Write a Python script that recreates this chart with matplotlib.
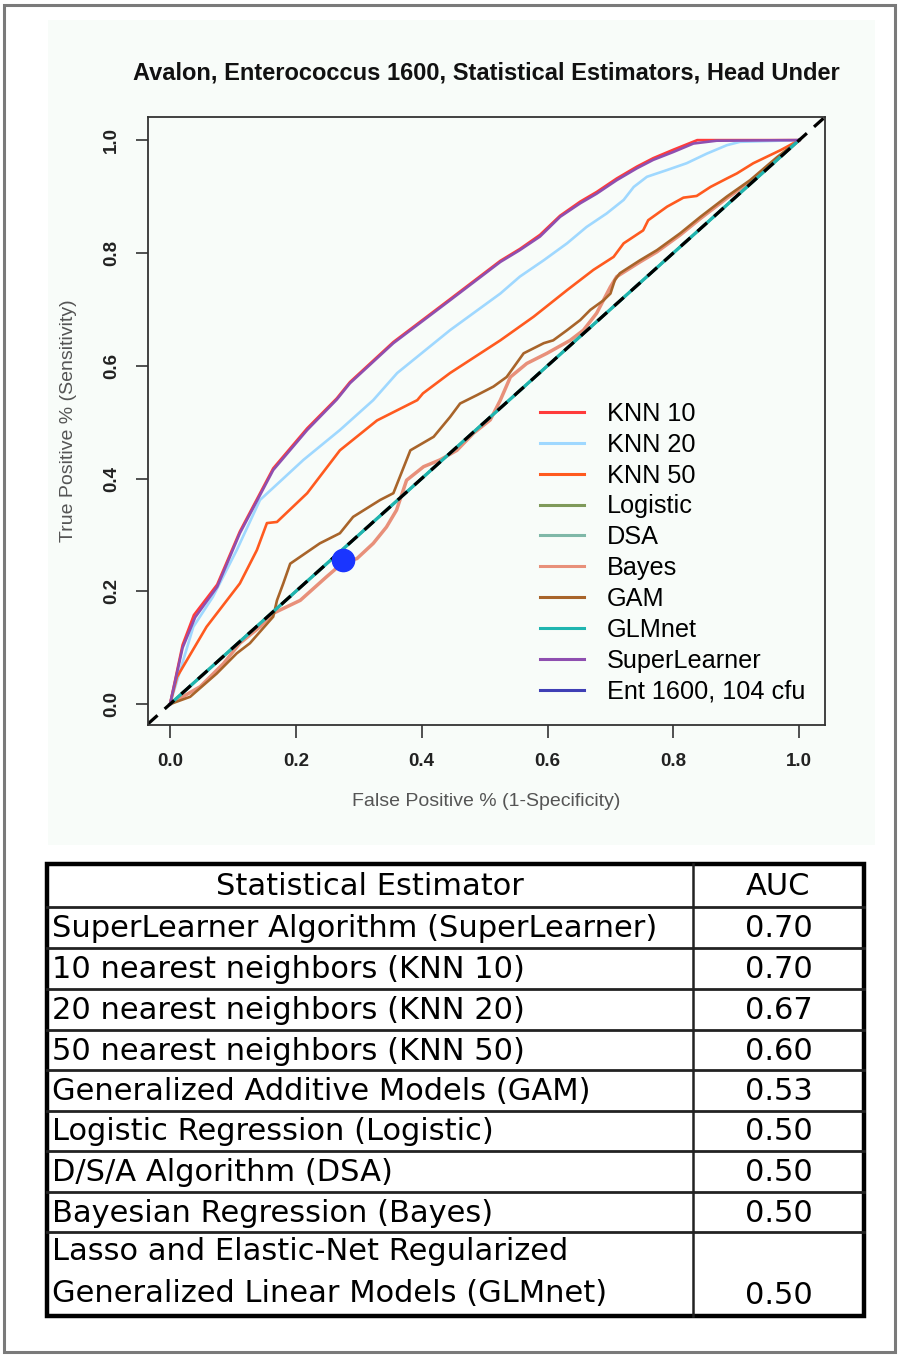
import matplotlib.pyplot as plt
from matplotlib.lines import Line2D
from matplotlib.patches import Rectangle

# ROC curves: false positive rate vs true positive rate
sl_fpr = [0, 0.02, 0.04, 0.075, 0.111, 0.164, 0.218, 0.265, 0.286, 0.355, 0.445, 0.525,
          0.556, 0.588, 0.620, 0.652, 0.678, 0.710, 0.742, 0.768, 0.800, 0.832, 0.869, 1.0]
sl_tpr = [0, 0.10, 0.154, 0.208, 0.303, 0.415, 0.486, 0.540, 0.569, 0.640, 0.716, 0.784,
          0.805, 0.829, 0.864, 0.888, 0.905, 0.929, 0.950, 0.965, 0.979, 0.994, 0.999, 1.0]

knn10_fpr = [0, 0.02, 0.038, 0.075, 0.111, 0.164, 0.218, 0.265, 0.286, 0.355, 0.445, 0.525,
             0.556, 0.588, 0.620, 0.652, 0.678, 0.710, 0.742, 0.768, 0.800, 0.838, 1.0]
knn10_tpr = [0, 0.105, 0.158, 0.212, 0.306, 0.418, 0.489, 0.542, 0.571, 0.642, 0.718, 0.786,
             0.807, 0.832, 0.866, 0.891, 0.908, 0.932, 0.953, 0.968, 0.983, 1.0, 1.0]

knn20_fpr = [0, 0.037, 0.068, 0.106, 0.143, 0.18, 0.212, 0.27, 0.323, 0.361, 0.445, 0.525,
             0.556, 0.594, 0.631, 0.662, 0.694, 0.721, 0.737, 0.758, 0.790, 0.821, 0.853,
             0.885, 0.906, 1.0]
knn20_tpr = [0, 0.137, 0.19, 0.273, 0.362, 0.40, 0.433, 0.486, 0.539, 0.587, 0.663, 0.728,
             0.758, 0.787, 0.817, 0.846, 0.870, 0.894, 0.917, 0.935, 0.947, 0.959, 0.976,
             0.991, 0.997, 1.0]

knn50_fpr = [0, 0.011, 0.058, 0.111, 0.138, 0.154, 0.17, 0.218, 0.27, 0.329, 0.393, 0.402,
             0.445, 0.525, 0.578, 0.631, 0.673, 0.705, 0.721, 0.752, 0.760, 0.790, 0.816,
             0.837, 0.859, 0.885, 0.901, 0.927, 0.970, 1.0]
knn50_tpr = [0, 0.048, 0.137, 0.214, 0.273, 0.321, 0.323, 0.374, 0.45, 0.503, 0.539, 0.551,
             0.587, 0.645, 0.687, 0.734, 0.770, 0.793, 0.817, 0.840, 0.858, 0.882, 0.898,
             0.901, 0.917, 0.932, 0.941, 0.959, 0.982, 1.0]

gam_fpr = [0, 0.032, 0.074, 0.106, 0.127, 0.164, 0.170, 0.180, 0.191, 0.238, 0.270, 0.291,
           0.334, 0.355, 0.382, 0.419, 0.445, 0.461, 0.488, 0.514, 0.535, 0.562, 0.594,
           0.609, 0.631, 0.652, 0.668, 0.689, 0.700, 0.707, 0.715, 0.747, 0.774, 0.811,
           0.843, 0.885, 0.922, 0.965, 1.0]
gam_tpr = [0, 0.013, 0.054, 0.090, 0.108, 0.155, 0.184, 0.214, 0.249, 0.285, 0.303, 0.332,
           0.362, 0.374, 0.450, 0.474, 0.509, 0.533, 0.548, 0.563, 0.580, 0.622, 0.640,
           0.645, 0.663, 0.681, 0.699, 0.716, 0.728, 0.752, 0.764, 0.787, 0.805, 0.835,
           0.864, 0.900, 0.929, 0.970, 1.0]

bayes_fpr = [0, 0.048, 0.085, 0.111, 0.143, 0.164, 0.207, 0.249, 0.276, 0.297, 0.323, 0.344,
             0.360, 0.376, 0.403, 0.429, 0.456, 0.482, 0.509, 0.525, 0.541, 0.567, 0.599,
             0.636, 0.657, 0.678, 0.700, 0.710, 0.747, 0.774, 0.811, 0.843, 0.885, 0.922,
             0.965, 1.0]
bayes_tpr = [0, 0.031, 0.072, 0.108, 0.137, 0.161, 0.184, 0.226, 0.252, 0.258, 0.285, 0.314,
             0.344, 0.397, 0.421, 0.433, 0.450, 0.480, 0.504, 0.539, 0.580, 0.604, 0.622,
             0.645, 0.663, 0.693, 0.740, 0.758, 0.784, 0.802, 0.832, 0.861, 0.897, 0.926,
             0.967, 1.0]

diag_fpr = [0, 1]
diag_tpr = [0, 1]

# single operating point of the Ent 1600 threshold
ent_fpr = [0.275]
ent_tpr = [0.255]

# AUC summary table
estimators = ["SuperLearner Algorithm (SuperLearner)",
              "10 nearest neighbors (KNN 10)",
              "20 nearest neighbors (KNN 20)",
              "50 nearest neighbors (KNN 50)",
              "Generalized Additive Models (GAM)",
              "Logistic Regression (Logistic)",
              "D/S/A Algorithm (DSA)",
              "Bayesian Regression (Bayes)",
              "Lasso and Elastic-Net Regularized\nGeneralized Linear Models (GLMnet)"]
auc = [0.70, 0.70, 0.67, 0.60, 0.53, 0.50, 0.50, 0.50, 0.50]

W, H = 898, 1355
fig = plt.figure(figsize=(W / 100, H / 100), dpi=100)
fig.patch.set_facecolor('white')

# background layer in pixel coordinates
bg = fig.add_axes([0, 0, 1, 1], zorder=0)
bg.set_xlim(0, W)
bg.set_ylim(H, 0)
bg.axis('off')
bg.add_patch(Rectangle((4, 5), 891, 1347, fill=False, ec='#7a7a7a', lw=2.2))
bg.add_patch(Rectangle((48, 20), 827, 825, fc='#f8fcf9', ec='none'))

ax = fig.add_axes([148 / W, 1 - 725 / H, 677 / W, 608 / H], zorder=2)
ax.set_facecolor('#f8fcf9')

lw = 1.9
ax.plot(diag_fpr, diag_tpr, color='#7f9a5a', lw=lw)          # Logistic
ax.plot(diag_fpr, diag_tpr, color='#7fb8a8', lw=lw)          # DSA
ax.plot(knn10_fpr, knn10_tpr, color='#ff3b3b', lw=lw)
ax.plot(knn20_fpr, knn20_tpr, color='#9fd8ff', lw=lw)
ax.plot(knn50_fpr, knn50_tpr, color='#ff5a1f', lw=lw)
ax.plot(bayes_fpr, bayes_tpr, color='#e8907a', lw=lw + 0.6)
ax.plot(gam_fpr, gam_tpr, color='#a8642a', lw=lw)
ax.plot(diag_fpr, diag_tpr, color='#1fb5b0', lw=lw + 0.4)    # GLMnet
ax.plot(sl_fpr, sl_tpr, color='#8e4fb0', lw=lw)
ax.axline((0, 0), slope=1, color='black', lw=2.3, ls=(0, (4, 3)))
ax.plot(ent_fpr, ent_tpr, 'o', color='#1a35ff', ms=16)

ax.set_xlim(-0.035, 1.041)
ax.set_ylim(-0.037, 1.041)
ticks = [0.0, 0.2, 0.4, 0.6, 0.8, 1.0]
ax.set_xticks(ticks)
ax.set_yticks(ticks)
ax.set_xticklabels([f"{t:.1f}" for t in ticks], fontsize=13.5, fontweight='bold', color='#222222',
                   family='Liberation Sans')
ax.set_yticklabels([f"{t:.1f}" for t in ticks], fontsize=13.5, fontweight='bold', color='#222222',
                   family='Liberation Sans', rotation=90, va='center')
ax.tick_params(axis='both', length=9, width=1.2, pad=11, color='#333333')
for s in ax.spines.values():
    s.set_linewidth(1.3)
    s.set_color('#333333')

ax.set_xlabel("False Positive % (1-Specificity)", fontsize=14, color='#555555',
              family='Liberation Sans', labelpad=17)
ax.set_ylabel("True Positive % (Sensitivity)", fontsize=14, color='#555555',
              family='Liberation Sans', labelpad=19)
ax.set_title("Avalon, Enterococcus 1600, Statistical Estimators, Head Under", fontsize=17,
             fontweight='bold', family='Liberation Sans', pad=27, color='#111111')

labels = ["KNN 10", "KNN 20", "KNN 50", "Logistic", "DSA", "Bayes", "GAM", "GLMnet",
          "SuperLearner", "Ent 1600, 104 cfu"]
colors = ['#ff3b3b', '#9fd8ff', '#ff5a1f', '#7f9a5a', '#7fb8a8', '#e8907a', '#a8642a',
          '#1fb5b0', '#8e4fb0', '#3f3fb5']
handles = [Line2D([], [], color=c, lw=2.2) for c in colors]
ax.legend(handles, labels, loc='upper left', bbox_to_anchor=((540 - 148) / 677, (725 - 402) / 608),
          frameon=False, borderpad=0, borderaxespad=0, handlelength=1.75,
          handletextpad=0.9, labelspacing=0.27,
          prop={'family': 'Liberation Sans', 'size': 18.2})

# table with the AUC of each estimator
tab = fig.add_axes([0, 0, 1, 1], zorder=3)
tab.set_xlim(0, W)
tab.set_ylim(H, 0)
tab.axis('off')
row_edges = [864, 907, 948, 989, 1030, 1070, 1111, 1151, 1192, 1232, 1316]
x0, xdiv, x1 = 47, 693, 864
for y in row_edges[1:-1]:
    tab.plot([x0, x1], [y, y], color='#222222', lw=2.0)
tab.plot([xdiv, xdiv], [row_edges[0], row_edges[-1]], color='#222222', lw=1.8)
tab.add_patch(Rectangle((x0, row_edges[0]), x1 - x0, row_edges[-1] - row_edges[0],
                        fill=False, ec='black', lw=3.2))

tfont = dict(family='DejaVu Sans', fontsize=22, color='black')
tab.text((x0 + xdiv) / 2, (row_edges[0] + row_edges[1]) / 2 + 1, "Statistical Estimator",
         ha='center', va='center', **tfont)
tab.text((xdiv + x1) / 2, (row_edges[0] + row_edges[1]) / 2 + 1, "AUC",
         ha='center', va='center', **tfont)
for i, (name, val) in enumerate(zip(estimators, auc)):
    top, bot = row_edges[i + 1], row_edges[i + 2]
    if "\n" in name:
        first, second = name.split("\n")
        tab.text(52, top + 20, first, ha='left', va='center', **tfont)
        tab.text(52, bot - 22, second, ha='left', va='center', **tfont)
        tab.text((xdiv + x1) / 2, bot - 20, f"{val:.2f}", ha='center', va='center', **tfont)
    else:
        tab.text(52, (top + bot) / 2 + 1, name, ha='left', va='center', **tfont)
        tab.text((xdiv + x1) / 2, (top + bot) / 2 + 1, f"{val:.2f}", ha='center', va='center',
                 **tfont)

fig.savefig('out.png', dpi=100)
